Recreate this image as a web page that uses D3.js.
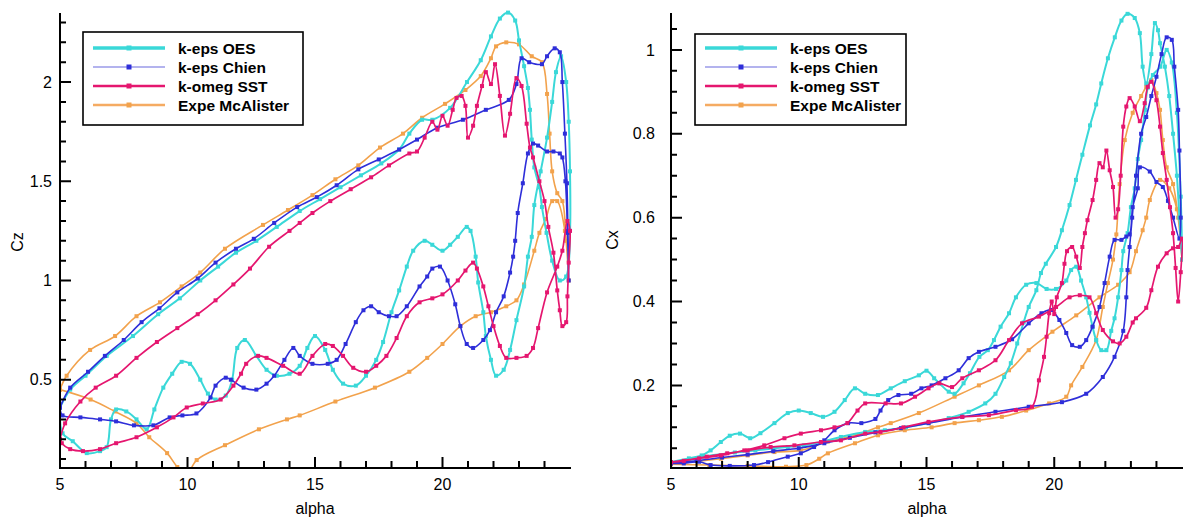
<!DOCTYPE html>
<html>
<head>
<meta charset="utf-8">
<title>Cz / Cx hysteresis loops</title>
<script src="https://d3js.org/d3.v7.min.js"></script>
<style>
  html, body { margin: 0; padding: 0; background: #ffffff; }
  svg { display: block; font-family: 'Liberation Sans', Arial, Helvetica, sans-serif; }
</style>
</head>
<body>
<div id="chart"></div>
<script>
// Legend entries, in legend order
var seriesNames = ['k-eps OES', 'k-eps Chien', 'k-omeg SST', 'Expe McAlister'];

// Axis ticks
var alphaMajor = [5, 10, 15, 20];
var alphaMinor = [6, 7, 8, 9, 11, 12, 13, 14, 16, 17, 18, 19, 21, 22, 23, 24];
var czMajor = [0.5, 1, 1.5, 2];
var czMinor = [0.1, 0.2, 0.3, 0.4, 0.6, 0.7, 0.8, 0.9, 1.1, 1.2, 1.3, 1.4, 1.6, 1.7, 1.8, 1.9, 2.1, 2.2, 2.3];
var cxMajor = [0.2, 0.4, 0.6, 0.8, 1];
var cxMinor = [0.05, 0.1, 0.15, 0.25, 0.3, 0.35, 0.45, 0.5, 0.55, 0.65, 0.7, 0.75, 0.85, 0.9, 0.95, 1.05];

// Cz vs alpha, [alpha, Cz], read along each loop (upstroke then downstroke)
var czOES = [[5,0.36],[5.4,0.45],[6.0,0.52],[6.83,0.62],[7.86,0.72],[8.85,0.83],[9.7,0.91],[10.5,1.0],[11.2,1.07],[11.9,1.14],[12.7,1.2],[13.5,1.27],[14.4,1.35],[15.2,1.41],[16.0,1.47],[16.8,1.53],[17.6,1.59],[18.3,1.66],[18.7,1.74],[19.2,1.81],[19.6,1.81],[20.3,1.87],[20.96,2.0],[21.5,2.11],[21.9,2.23],[22.25,2.32],[22.57,2.35],[22.85,2.31],[23.0,2.21],[23.2,2.08],[23.35,1.97],[23.43,1.86],[23.5,1.71],[23.6,1.57],[23.8,1.47],[23.9,1.37],[24.08,1.24],[24.3,1.1],[24.6,1.0],[24.85,1.02],[25,1.25],[25,1.55],[24.95,1.8],[24.85,2.0],[24.65,2.13],[24.45,2.05],[24.3,1.9],[24.1,1.72],[23.85,1.55],[23.6,1.38],[23.5,1.22],[23.35,1.12],[23.2,0.97],[22.9,0.8],[22.65,0.65],[22.4,0.55],[22.1,0.52],[21.9,0.6],[21.7,0.72],[21.6,0.84],[21.4,0.99],[21.3,1.12],[21.1,1.25],[20.95,1.27],[20.6,1.22],[20.3,1.18],[20.0,1.15],[19.6,1.18],[19.3,1.2],[18.85,1.15],[18.6,1.07],[18.3,0.95],[18.0,0.84],[17.67,0.69],[17.4,0.6],[17.0,0.52],[16.6,0.47],[16.1,0.48],[15.7,0.55],[15.4,0.65],[15.0,0.72],[14.7,0.66],[14.4,0.57],[14.0,0.53],[13.5,0.52],[13.1,0.55],[12.7,0.62],[12.25,0.7],[11.95,0.66],[11.75,0.5],[11.5,0.42],[11.1,0.4],[10.8,0.43],[10.5,0.5],[10.1,0.58],[9.77,0.59],[9.4,0.53],[9.05,0.46],[8.7,0.35],[8.4,0.25],[8.0,0.3],[7.6,0.34],[7.2,0.35],[7.0,0.3],[6.83,0.16],[6.57,0.14],[6.05,0.13],[5.5,0.19],[5.1,0.23],[5,0.36]];
var czChien = [[5,0.36],[5.4,0.46],[6.1,0.54],[6.76,0.62],[7.5,0.7],[8.2,0.79],[8.9,0.86],[9.6,0.94],[10.4,1.01],[11.1,1.09],[11.9,1.16],[12.6,1.21],[13.4,1.29],[14.3,1.37],[15.07,1.42],[15.85,1.48],[16.7,1.56],[17.5,1.61],[18.3,1.66],[19.0,1.71],[19.8,1.77],[20.8,1.81],[21.7,1.86],[22.6,1.91],[22.9,1.99],[23.1,2.12],[23.4,2.1],[23.9,2.09],[24.1,2.13],[24.4,2.17],[24.6,2.15],[24.7,2.0],[24.8,1.74],[24.88,1.49],[24.92,1.24],[24.95,1.0],[24.9,1.25],[24.82,1.5],[24.7,1.62],[24.6,1.64],[24.35,1.65],[24.1,1.65],[23.75,1.68],[23.55,1.69],[23.35,1.64],[23.15,1.49],[22.95,1.34],[22.85,1.2],[22.77,1.12],[22.65,1.04],[22.4,0.92],[22.1,0.84],[21.86,0.75],[21.6,0.7],[21.2,0.66],[20.95,0.68],[20.7,0.77],[20.5,0.88],[20.2,1.0],[19.9,1.07],[19.6,1.06],[19.4,1.02],[19.1,0.97],[18.6,0.87],[18.2,0.82],[17.9,0.82],[17.5,0.84],[17.2,0.87],[16.9,0.85],[16.6,0.79],[16.2,0.68],[15.85,0.6],[15.5,0.58],[14.9,0.58],[14.4,0.62],[14.15,0.66],[13.8,0.6],[13.4,0.52],[13.1,0.48],[12.7,0.45],[12.2,0.46],[11.7,0.5],[11.5,0.51],[11.1,0.47],[10.9,0.41],[10.35,0.33],[9.8,0.32],[9.3,0.31],[8.66,0.27],[7.9,0.27],[7.2,0.29],[6.57,0.3],[5.8,0.31],[5.1,0.32],[5,0.36]];
var czSST = [[5,0.2],[5.2,0.28],[5.8,0.39],[6.4,0.46],[7.2,0.52],[8.0,0.61],[8.8,0.69],[9.6,0.76],[10.4,0.83],[11.1,0.9],[11.8,0.98],[12.45,1.06],[13.2,1.17],[14.0,1.25],[14.4,1.29],[14.9,1.34],[15.6,1.4],[16.4,1.46],[17.2,1.52],[17.9,1.58],[18.7,1.64],[19.0,1.65],[19.3,1.72],[19.6,1.8],[19.8,1.76],[20.0,1.83],[20.2,1.78],[20.4,1.86],[20.55,1.92],[20.75,1.93],[20.9,1.88],[21.0,1.72],[21.2,1.78],[21.35,1.88],[21.55,1.98],[21.7,2.05],[21.9,1.99],[22.06,2.09],[22.25,1.93],[22.45,1.73],[22.65,1.84],[22.9,2.02],[23.1,1.98],[23.3,1.79],[23.43,1.67],[23.55,1.62],[23.8,1.5],[24.0,1.4],[24.15,1.27],[24.35,1.14],[24.5,0.95],[24.6,0.85],[24.7,0.77],[24.85,0.79],[24.9,0.92],[24.95,1.09],[25,1.25],[24.9,1.3],[24.7,1.15],[24.5,1.07],[24.1,0.94],[23.75,0.76],[23.55,0.66],[23.3,0.62],[22.9,0.61],[22.5,0.61],[22.25,0.67],[22.0,0.77],[21.8,0.87],[21.6,0.97],[21.35,1.06],[21.2,1.09],[20.9,1.05],[20.6,1.0],[20.0,0.93],[19.6,0.91],[19.1,0.89],[18.6,0.82],[18.2,0.71],[17.8,0.62],[17.4,0.57],[17.0,0.54],[16.5,0.56],[16.1,0.62],[15.7,0.67],[15.4,0.68],[14.9,0.62],[14.4,0.53],[13.75,0.57],[13.1,0.61],[12.77,0.62],[12.3,0.58],[12.1,0.53],[11.8,0.47],[11.3,0.4],[10.6,0.38],[9.97,0.36],[9.45,0.31],[8.8,0.26],[8.0,0.21],[7.2,0.18],[6.57,0.15],[5.9,0.14],[5.4,0.15],[5.07,0.18],[5,0.2]];
var czExpe = [[5,0.45],[5.26,0.52],[6.18,0.65],[7.16,0.72],[8.0,0.82],[8.92,0.89],[9.77,0.97],[10.5,1.04],[11.47,1.16],[12.96,1.28],[13.94,1.355],[14.9,1.43],[15.8,1.51],[16.7,1.58],[17.55,1.67],[18.45,1.74],[19.2,1.82],[20.1,1.89],[20.9,1.96],[21.5,2.03],[21.9,2.12],[22.1,2.18],[22.5,2.2],[23.0,2.19],[23.5,2.13],[23.9,2.1],[24.1,1.94],[24.2,1.74],[24.3,1.55],[24.5,1.44],[24.7,1.4],[24.85,1.2],[24.95,1.0],[24.8,1.25],[24.5,1.4],[24.3,1.4],[24.05,1.31],[23.8,1.24],[23.6,1.15],[23.2,0.98],[22.9,0.9],[22.5,0.87],[21.9,0.84],[21.3,0.82],[20.7,0.77],[20.0,0.68],[19.4,0.61],[18.7,0.54],[17.35,0.46],[15.8,0.39],[14.4,0.32],[13.9,0.3],[12.8,0.25],[11.47,0.17],[10.36,0.095],[9.95,0.02],[9.6,0.06],[9.2,0.13],[8.5,0.21],[8.0,0.28],[7.15,0.34],[6.2,0.4],[5,0.45]];

// Cx vs alpha, [alpha, Cx]
var cxOES = [[5,0.017],[5.7,0.022],[6.25,0.03],[7.5,0.04],[8.3,0.045],[9.05,0.05],[9.57,0.053],[10.2,0.057],[10.87,0.065],[11.65,0.077],[12.6,0.089],[13.37,0.093],[14.2,0.1],[15.08,0.11],[15.87,0.122],[16.65,0.137],[17.3,0.157],[17.7,0.18],[18.04,0.22],[18.3,0.253],[18.55,0.3],[18.8,0.35],[19.0,0.387],[19.3,0.427],[19.48,0.468],[19.67,0.49],[20.07,0.53],[20.3,0.57],[20.6,0.63],[20.85,0.69],[21.1,0.75],[21.4,0.82],[21.64,0.87],[21.84,0.92],[22.1,0.98],[22.37,1.03],[22.63,1.07],[22.87,1.086],[23.15,1.076],[23.35,1.04],[23.46,0.96],[23.6,0.92],[23.8,0.99],[23.94,1.064],[24.06,1.047],[24.14,1.016],[24.33,0.96],[24.5,0.89],[24.65,0.8],[24.8,0.7],[24.9,0.6],[25,0.5],[24.95,0.65],[24.8,0.85],[24.6,0.97],[24.4,1.0],[24.15,0.96],[23.86,0.94],[23.66,0.91],[23.55,0.857],[23.4,0.785],[23.27,0.74],[23.15,0.67],[23.0,0.625],[22.87,0.563],[22.7,0.52],[22.63,0.475],[22.5,0.41],[22.36,0.36],[22.23,0.33],[22.04,0.284],[21.84,0.284],[21.64,0.308],[21.5,0.34],[21.38,0.373],[21.25,0.41],[21.05,0.45],[20.86,0.483],[20.66,0.475],[20.47,0.45],[20.07,0.43],[19.7,0.43],[19.3,0.444],[18.9,0.44],[18.5,0.41],[18.23,0.372],[17.9,0.34],[17.64,0.308],[17.4,0.284],[17.07,0.268],[16.7,0.229],[16.45,0.205],[16.1,0.18],[15.87,0.185],[15.5,0.205],[15.3,0.217],[15.0,0.235],[14.7,0.224],[14.15,0.21],[13.6,0.193],[13.1,0.177],[12.6,0.18],[12.2,0.193],[11.8,0.165],[11.4,0.137],[10.95,0.125],[10.47,0.134],[10.0,0.14],[9.57,0.134],[9.05,0.11],[8.5,0.086],[8.1,0.074],[7.7,0.085],[7.3,0.08],[6.95,0.065],[6.55,0.045],[6.2,0.033],[5.7,0.026],[5,0.017]];
var cxChien = [[5,0.014],[6,0.02],[7,0.028],[8,0.035],[9,0.043],[10,0.05],[11,0.062],[12,0.075],[13,0.088],[14,0.098],[15.08,0.11],[16.4,0.125],[17.7,0.137],[19.0,0.149],[20.3,0.16],[21.25,0.18],[21.9,0.22],[22.36,0.268],[22.7,0.33],[22.82,0.41],[22.87,0.475],[22.95,0.53],[23.05,0.6],[23.2,0.7],[23.4,0.8],[23.6,0.84],[23.8,0.89],[24.0,0.936],[24.2,0.99],[24.4,1.03],[24.6,1.024],[24.7,0.96],[24.85,0.857],[24.9,0.76],[24.95,0.6],[24.9,0.55],[24.65,0.6],[24.45,0.64],[24.25,0.673],[24.0,0.685],[23.74,0.71],[23.35,0.72],[23.27,0.67],[23.07,0.625],[22.95,0.56],[22.82,0.555],[22.63,0.547],[22.36,0.547],[22.17,0.507],[21.97,0.444],[21.77,0.387],[21.5,0.34],[21.25,0.308],[21.0,0.292],[20.7,0.296],[20.47,0.325],[20.2,0.356],[19.87,0.38],[19.5,0.372],[19.0,0.348],[18.35,0.31],[17.7,0.292],[17.05,0.28],[16.65,0.265],[16.26,0.236],[15.74,0.217],[15.2,0.2],[14.8,0.193],[14.4,0.18],[13.9,0.177],[13.5,0.165],[13.2,0.14],[13.0,0.12],[12.45,0.11],[11.93,0.11],[11.4,0.093],[11.0,0.069],[10.6,0.053],[10.08,0.038],[9.57,0.03],[8.8,0.017],[8.25,0.01],[7.3,0.008],[6.55,0.01],[6.1,0.018],[5.5,0.014],[5,0.014]];
var cxSST = [[5,0.017],[5.5,0.02],[6.4,0.03],[7.2,0.038],[8.0,0.045],[8.9,0.053],[9.83,0.057],[10.87,0.065],[11.65,0.069],[12.6,0.085],[13.2,0.089],[14.1,0.1],[15.08,0.113],[16.4,0.125],[17.44,0.129],[18.5,0.141],[19.13,0.149],[19.4,0.212],[19.6,0.268],[19.7,0.316],[19.8,0.372],[19.9,0.4],[20.0,0.37],[20.1,0.41],[20.3,0.444],[20.4,0.49],[20.5,0.52],[20.7,0.53],[20.86,0.507],[21.0,0.48],[21.1,0.53],[21.2,0.563],[21.3,0.594],[21.5,0.642],[21.64,0.69],[21.77,0.73],[21.9,0.72],[22.04,0.76],[22.17,0.713],[22.3,0.673],[22.4,0.6],[22.5,0.62],[22.6,0.7],[22.7,0.817],[22.82,0.865],[22.95,0.885],[23.15,0.865],[23.35,0.83],[23.54,0.873],[23.66,0.912],[23.8,0.924],[24.0,0.88],[24.14,0.817],[24.25,0.754],[24.4,0.69],[24.53,0.625],[24.65,0.563],[24.75,0.48],[24.85,0.4],[24.95,0.47],[25,0.55],[24.85,0.53],[24.65,0.527],[24.4,0.515],[24.06,0.483],[23.8,0.427],[23.6,0.385],[23.2,0.36],[23.07,0.35],[22.82,0.316],[22.56,0.3],[22.3,0.305],[21.9,0.332],[21.64,0.372],[21.38,0.41],[21.0,0.415],[20.6,0.41],[20.07,0.387],[19.4,0.364],[18.74,0.348],[18.23,0.308],[17.7,0.26],[17.05,0.236],[16.4,0.217],[16.0,0.196],[15.5,0.205],[15.08,0.193],[14.55,0.173],[14.0,0.157],[13.4,0.157],[12.6,0.157],[12.3,0.14],[11.9,0.11],[11.4,0.1],[10.87,0.093],[10.08,0.085],[9.44,0.074],[8.65,0.057],[7.87,0.045],[6.95,0.033],[6.1,0.026],[5,0.017]];
var cxExpe = [[5,0.012],[6.5,0.01],[8.0,0.008],[9.5,0.006],[10.3,0.01],[10.8,0.025],[11.14,0.038],[12.2,0.062],[13.1,0.081],[14.15,0.093],[15.2,0.1],[16.1,0.11],[17.05,0.117],[17.95,0.125],[18.9,0.14],[19.8,0.157],[20.47,0.173],[20.66,0.2],[21.1,0.244],[21.64,0.308],[21.9,0.387],[22.1,0.444],[22.3,0.5],[22.43,0.56],[22.56,0.68],[22.76,0.785],[23.07,0.85],[23.4,0.89],[23.6,0.912],[23.8,0.928],[24.0,0.897],[24.14,0.857],[24.25,0.785],[24.4,0.72],[24.65,0.68],[24.85,0.6],[25,0.5],[24.8,0.62],[24.5,0.67],[24.14,0.69],[23.74,0.642],[23.6,0.6],[23.46,0.57],[23.2,0.52],[22.95,0.47],[22.5,0.44],[21.77,0.41],[20.86,0.367],[19.93,0.328],[19.0,0.284],[18.23,0.236],[17.05,0.2],[16.1,0.173],[14.7,0.134],[13.6,0.11],[13.1,0.1],[12.2,0.081],[11.14,0.066],[10.08,0.045],[9.05,0.041],[8.0,0.033],[6.95,0.025],[5,0.012]];

// Styles, same order as seriesNames
var lineColors = ['#3ad8d8', '#2e2ed9', '#e5166f', '#f2a24c'];
var legendColors = ['#3ad8d8', '#9a9ae8', '#e5166f', '#f5ab62'];
var lineWidths = [2, 1.6, 1.7, 1.6];
var legendWidths = [3.5, 1.5, 2.5, 2.5];
var drawOrder = [3, 0, 1, 2];

var W = 1183, H = 521, Y0 = 468, Y1 = 13;
var svg = d3.select('#chart').append('svg')
  .attr('width', W)
  .attr('height', H);

function drawPanel(opt){
  var x = d3.scaleLinear().domain([5, 25]).range([opt.x0, opt.x1]);
  var y = d3.scaleLinear().domain(opt.yDomain).range([Y0, Y1]);

  svg.append('clipPath').attr('id', 'clip-' + opt.id)
    .append('rect')
    .attr('x', opt.x0).attr('y', 0)
    .attr('width', opt.x1 - opt.x0 + 3).attr('height', Y0);

  var plot = svg.append('g').attr('clip-path', 'url(#clip-' + opt.id + ')');
  var line = d3.line()
    .x(function(d){ return x(d[0]); })
    .y(function(d){ return y(d[1]); })
    .curve(d3.curveCatmullRom.alpha(0.5));

  drawOrder.forEach(function(i){
    var data = opt.series[i];
    plot.append('path')
      .datum(data)
      .attr('d', line)
      .attr('fill', 'none')
      .attr('stroke', lineColors[i])
      .attr('stroke-width', lineWidths[i])
      .attr('stroke-linejoin', 'round');
    plot.selectAll('.m' + i)
      .data(data)
      .enter()
      .append('rect')
      .attr('class', 'm' + i)
      .attr('x', function(d){ return x(d[0]) - 2; })
      .attr('y', function(d){ return y(d[1]) - 2; })
      .attr('width', 4)
      .attr('height', 4)
      .attr('fill', lineColors[i]);
  });

  // axes: one path for the two axis lines and all tick marks (ticks point inward)
  var p = d3.path();
  p.moveTo(opt.x0, Y1); p.lineTo(opt.x0, Y0); p.lineTo(opt.x1 + 1, Y0);
  opt.yMinor.forEach(function(v){ p.moveTo(opt.x0, y(v)); p.lineTo(opt.x0 + 6, y(v)); });
  opt.yMajor.forEach(function(v){ p.moveTo(opt.x0, y(v)); p.lineTo(opt.x0 + 11, y(v)); });
  alphaMinor.forEach(function(v){ p.moveTo(x(v), Y0); p.lineTo(x(v), Y0 - 7); });
  alphaMajor.forEach(function(v){ p.moveTo(x(v), Y0); p.lineTo(x(v), Y0 - 11); });
  svg.append('path')
    .attr('d', p.toString())
    .attr('fill', 'none')
    .attr('stroke', '#000')
    .attr('stroke-width', 2);

  // tick labels
  svg.append('g').selectAll('text').data(opt.yMajor).enter().append('text')
    .attr('x', opt.x0 - opt.yPad)
    .attr('y', function(d){ return y(d); })
    .attr('dy', '0.35em')
    .attr('text-anchor', 'end')
    .style('font-size', '16px')
    .text(function(d){ return String(d); });
  svg.append('g').selectAll('text').data(alphaMajor).enter().append('text')
    .attr('x', function(d){ return x(d); })
    .attr('y', 490)
    .attr('text-anchor', 'middle')
    .style('font-size', '16px')
    .text(function(d){ return String(d); });

  // axis titles
  svg.append('text')
    .attr('x', opt.alphaX).attr('y', 514)
    .attr('text-anchor', 'middle')
    .style('font-size', '16px')
    .text('alpha');
  svg.append('text')
    .attr('transform', 'translate(' + opt.labelX + ',' + opt.labelY + ') rotate(-90)')
    .attr('text-anchor', 'middle')
    .attr('dy', '0.35em')
    .style('font-size', '16px')
    .text(opt.yLabel);

  // legend
  var lg = svg.append('g');
  lg.append('rect')
    .attr('x', opt.legend.x).attr('y', opt.legend.y)
    .attr('width', opt.legend.w).attr('height', opt.legend.h)
    .attr('fill', '#fff').attr('stroke', '#000').attr('stroke-width', 1.6);
  seriesNames.forEach(function(name, i){
    var ry = 48 + i * 19;
    var lx0 = opt.legend.x + 10, lx1 = opt.legend.x + 82;
    lg.append('line')
      .attr('x1', lx0).attr('x2', lx1).attr('y1', ry).attr('y2', ry)
      .attr('stroke', legendColors[i]).attr('stroke-width', legendWidths[i]);
    lg.append('rect')
      .attr('x', (lx0 + lx1) / 2 - 2.5).attr('y', ry - 2.5)
      .attr('width', 5).attr('height', 5)
      .attr('fill', lineColors[i]);
    lg.append('text')
      .attr('x', opt.legend.x + 95).attr('y', ry + 5.5)
      .style('font-size', '15.5px')
      .style('font-weight', 'bold')
      .text(name);
  });
}

drawPanel({
  id: 'cz', x0: 60, x1: 570, yDomain: [0.055, 2.348],
  yMajor: czMajor, yMinor: czMinor, yPad: 8,
  series: [czOES, czChien, czSST, czExpe],
  yLabel: 'Cz', labelX: 17, labelY: 242, alphaX: 315,
  legend: { x: 83, y: 32, w: 220, h: 93 }
});

drawPanel({
  id: 'cx', x0: 671, x1: 1182, yDomain: [0.003, 1.088],
  yMajor: cxMajor, yMinor: cxMinor, yPad: 16,
  series: [cxOES, cxChien, cxSST, cxExpe],
  yLabel: 'Cx', labelX: 612, labelY: 240, alphaX: 927,
  legend: { x: 695, y: 34, w: 211, h: 91 }
});
</script>
</body>
</html>
